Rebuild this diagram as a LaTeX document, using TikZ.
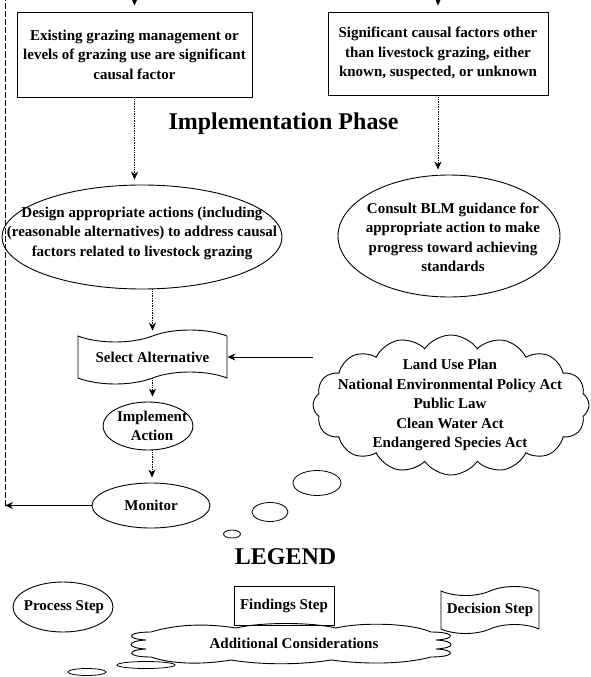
\documentclass[tikz,border=0pt]{standalone}
\usepackage{fontspec}
\setmainfont{Liberation Serif}
\usetikzlibrary{arrows.meta,positioning,shapes.geometric,shapes.symbols}
\tikzset{
  every picture/.append style={font=\bfseries, >=Stealth},
  txt/.style={align=center, inner sep=0pt, font=\fontsize{15}{19.5}\selectfont\bfseries},
  ttl/.style={font=\fontsize{24}{28}\selectfont\bfseries, inner sep=0pt},
  find/.style={rectangle, draw, line width=0.9pt, inner sep=0pt},
  proc/.style={ellipse, draw, line width=0.9pt, inner sep=0pt},
  decis/.style={tape, draw, line width=0.9pt, inner sep=0pt, tape bend height=#1},
  cons/.style={cloud, draw, line width=0.9pt, inner sep=0pt, cloud puffs=#1,
               cloud puff arc=110, cloud ignores aspect},
  bub/.style={ellipse, draw, line width=0.8pt, inner sep=0pt},
  flow/.style={-{Stealth[length=8pt,width=7pt]}, line width=0.7pt, densely dotted, shorten >=5pt},
  link/.style={-{Stealth[length=8pt,width=7pt]}, line width=0.9pt},
}

\begin{document}
\begin{tikzpicture}[x=1pt,y=-1pt]
\useasboundingbox (0,0) rectangle (591,677);

% ---------------- findings ----------------------------------------------------
\node[find, txt, minimum width=235, minimum height=85] (exist) at (134.5,54.5)
  {Existing grazing management or\\levels of grazing use are significant\\causal factor};
\node[find, txt, minimum width=220, minimum height=83] (other) at (438,53.5)
  {Significant causal factors other\\than livestock grazing, either\\known, suspected, or unknown};
\coordinate (inL) at (134.5,-12);
\coordinate (inR) at (438,-12);
\draw[link, shorten >=6pt] (inL) -- (inL |- exist.north);
\draw[link, shorten >=6pt] (inR) -- (inR |- other.north);

\node[ttl] (phase) at (283.5,124) {Implementation Phase};

% ---------------- process steps -----------------------------------------------
\node[proc, minimum width=280, minimum height=104] (design) at (142,237) {};
\node[txt] (designT) at (142,233)
  {Design appropriate actions (including\\(reasonable alternatives) to address causal\\factors related to livestock grazing};
\node[proc, minimum width=222, minimum height=122] (consult) at (449,236) {};
\node[txt] (consultT) at (453,237.5)
  {Consult BLM guidance for\\appropriate action to make\\progress toward achieving\\standards};
\draw[flow] (exist.south) -- (exist.south |- design.north);
\draw[flow] (other.south) -- (other.south |- consult.north);

\node[decis=12pt, txt, minimum width=149, minimum height=54] (select) at (152.5,357) {Select Alternative};
\draw[flow] (select.north |- design.south) -- (select.north);

\node[proc, minimum width=90, minimum height=48] (act) at (148,426) {};
\node[txt] (actT) at (152,426) {Implement\\Action};
\draw[flow] (select.south) -- (select.south |- act.north);

\node[proc, txt, minimum width=118, minimum height=45] (monitor) at (151,505.5) {Monitor};
\draw[flow] (actT.south |- act.south) -- (actT.south |- monitor.north);

\coordinate (loopT) at (5,-1);
\draw[link] (monitor.west) -- (monitor.west -| loopT);
\draw[line width=0.9pt, dash pattern=on 6pt off 2pt] (monitor.west -| loopT) -- (loopT);

% ---------------- additional considerations -----------------------------------
\node[cons=16, minimum width=276, minimum height=140] (laws) at (451,405) {};
\node[txt] (lawsT) at (450,405)
  {Land Use Plan\\National Environmental Policy Act\\Public Law\\Clean Water Act\\Endangered Species Act};
\draw[link] (select.east -| laws.west) -- (select.east);
\node[bub, minimum width=48, minimum height=25] (bubA) at (317,483) {};
\node[bub, minimum width=36, minimum height=19] (bubB) at (270,512) {};
\node[bub, minimum width=17, minimum height=8] (bubC) at (232,534) {};

% ---------------- legend -------------------------------------------------------
\node[ttl] (legend) at (285.5,557) {LEGEND};
\node[proc, minimum width=100, minimum height=50] (lgProc) at (63,607) {};
\node[txt] (lgProcT) at (64,607) {Process Step};
\node[find, txt, minimum width=100, minimum height=39] (lgFind) at (284,606) {Findings Step};
\node[decis=9pt, txt, minimum width=98, minimum height=47] (lgDec) at (490,610) {Decision Step};
\node[minimum width=322, minimum height=36] (lgCons) at (291,644) {};
\begin{scope}[shift={(lgCons.center)}]
  \draw[line width=0.9pt]
    (-140,-12) .. controls (-110,-21) and (-80,-20) .. (-55,-16)
    .. controls (-30,-22) and (20,-22) .. (45,-16)
    .. controls (70,-22) and (120,-21) .. (140,-12)
    .. controls (165,-12) and (165,-5) .. (145,-4)
    .. controls (165,-3) and (165,4) .. (145,5)
    .. controls (165,6) and (165,13) .. (140,13)
    .. controls (110,21) and (70,20) .. (40,16)
    .. controls (10,21) and (-30,21) .. (-60,16)
    .. controls (-90,21) and (-120,20) .. (-140,13)
    .. controls (-165,13) and (-165,6) .. (-145,5)
    .. controls (-165,4) and (-165,-3) .. (-145,-4)
    .. controls (-165,-5) and (-165,-12) .. (-140,-12) -- cycle;
\end{scope}
\node[txt] (lgConsT) at (294,643) {Additional Considerations};
\node[bub, minimum width=58, minimum height=7] (lgBubA) at (146,665) {};
\node[bub, minimum width=38, minimum height=7] (lgBubB) at (87,672) {};

\end{tikzpicture}
\end{document}
